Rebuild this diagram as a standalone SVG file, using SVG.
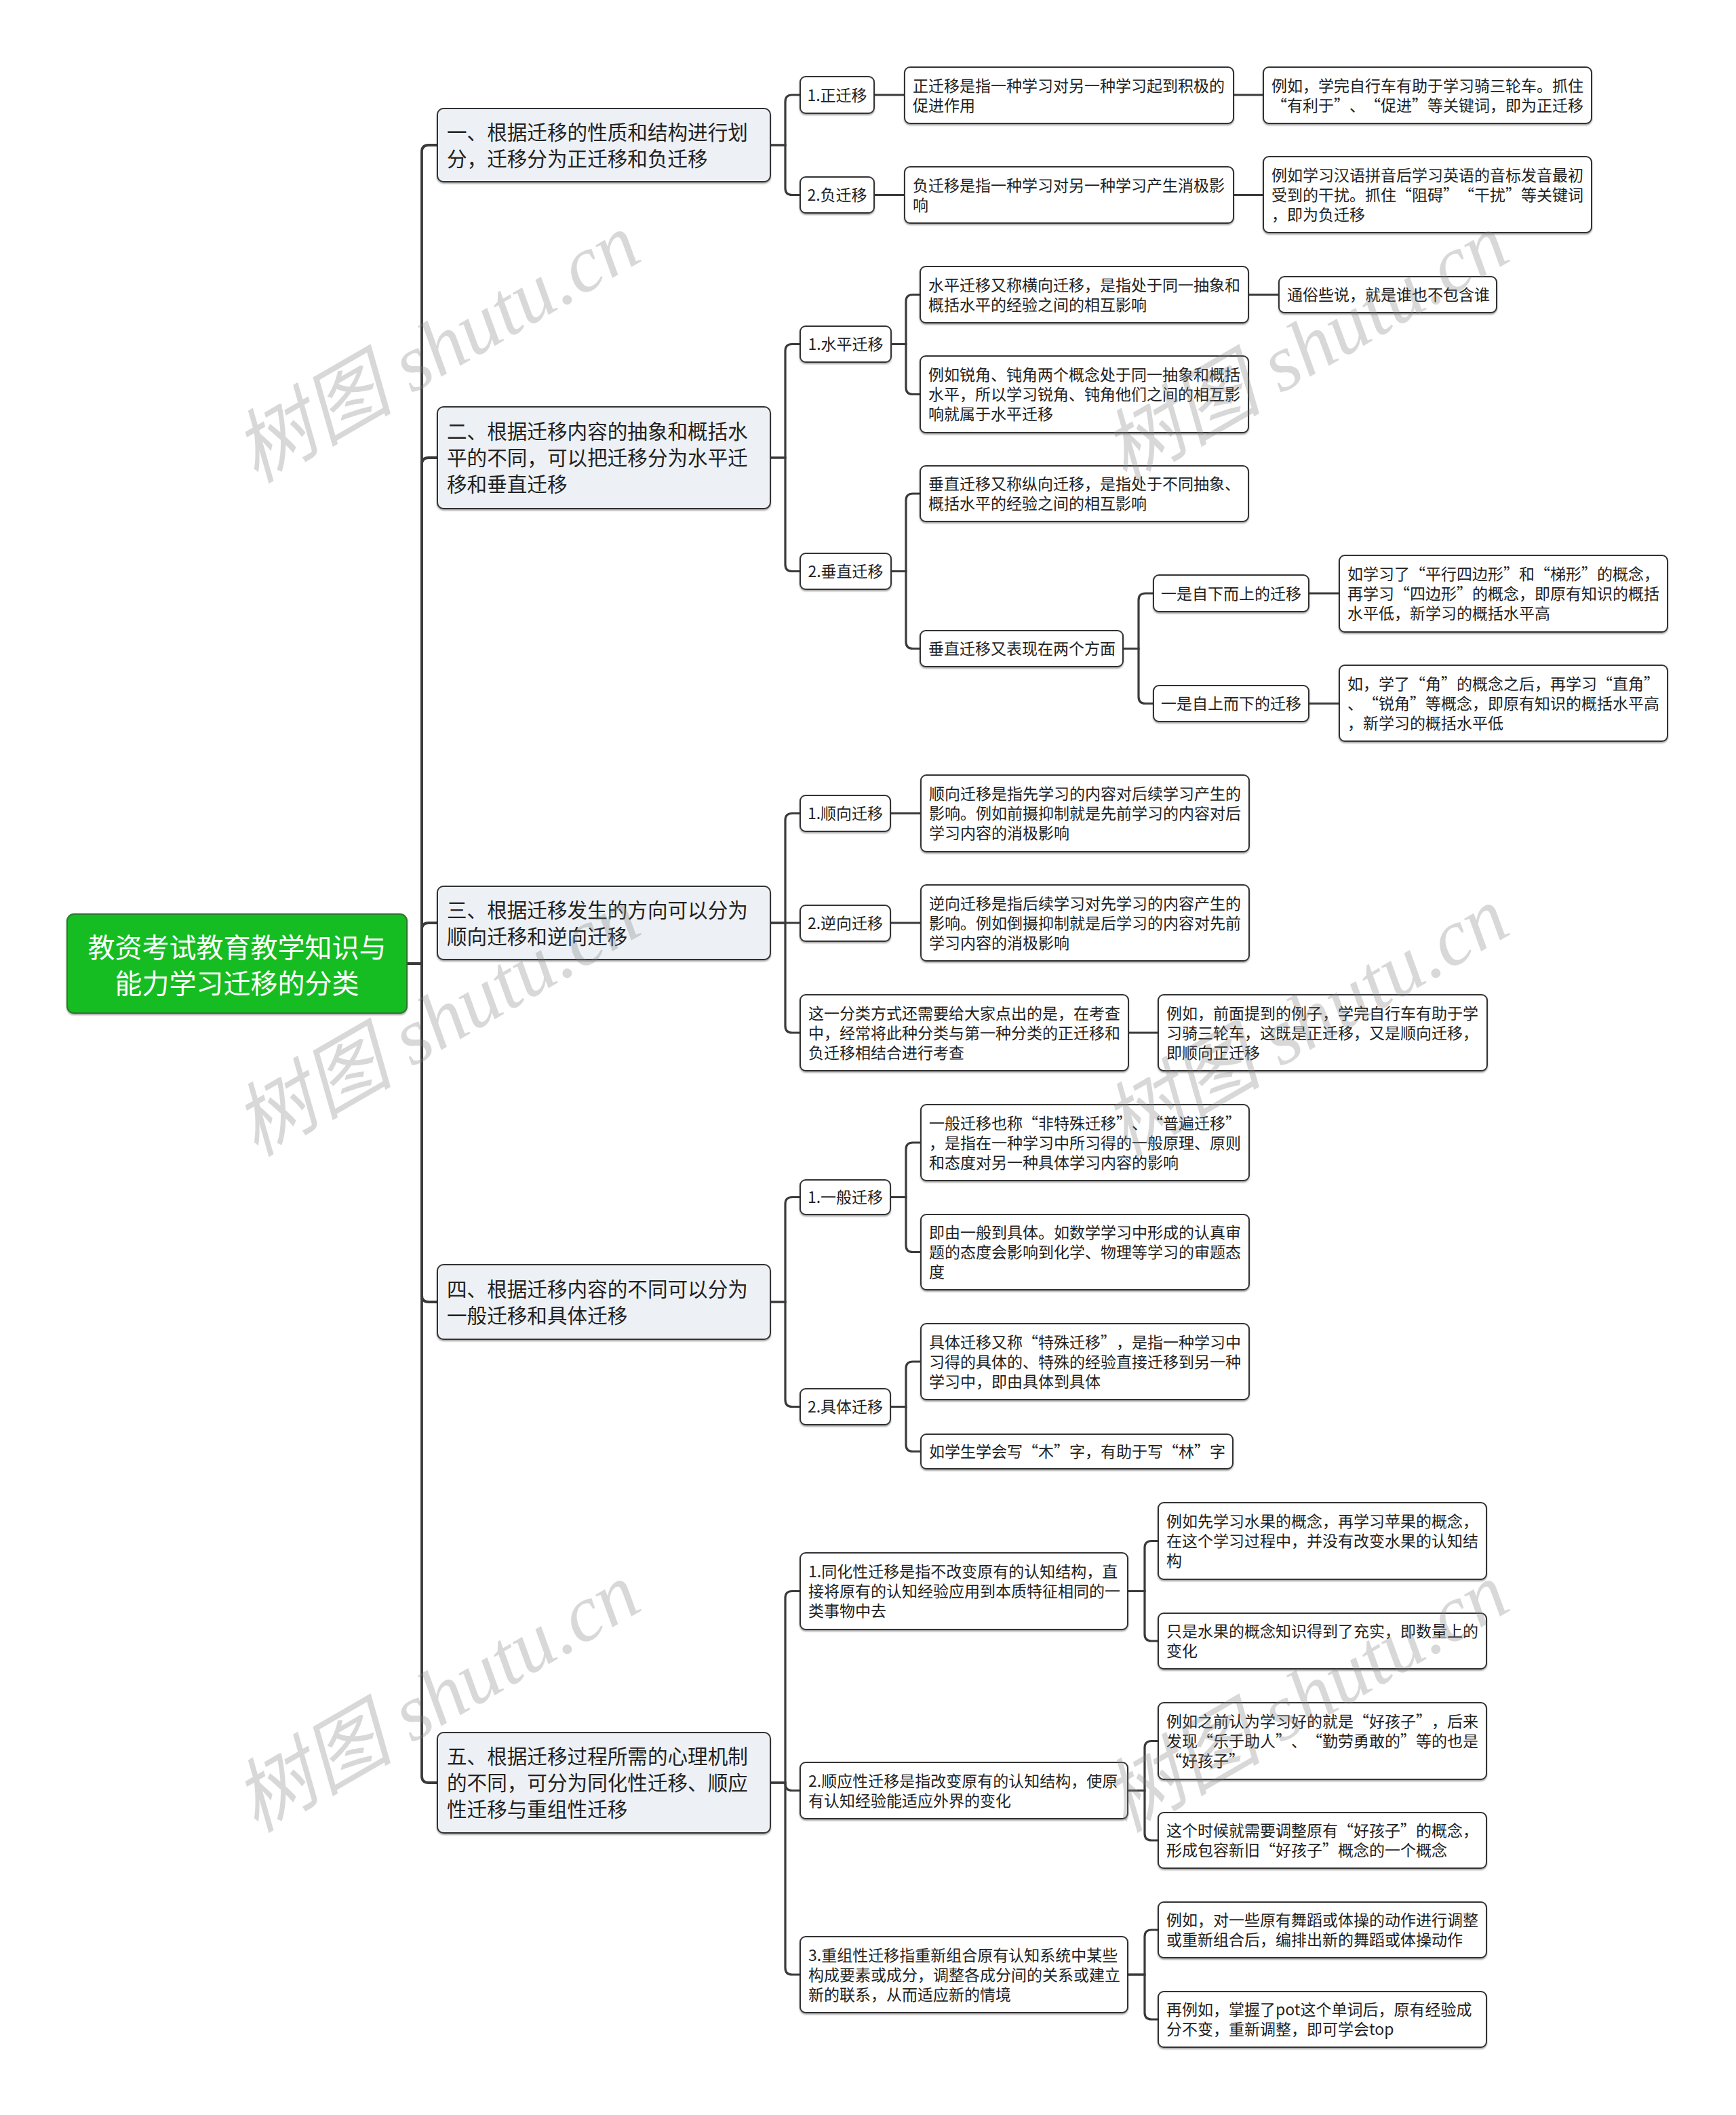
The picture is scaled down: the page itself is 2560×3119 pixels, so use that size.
<svg xmlns="http://www.w3.org/2000/svg" width="2560" height="3119" viewBox="0 0 2560 3119">
<defs>
<filter id="sh" x="-5%" y="-10%" width="110%" height="130%">
<feDropShadow dx="0" dy="2" stdDeviation="1.2" flood-color="#000" flood-opacity="0.35"/>
</filter>
<style>
text{text-spacing-trim:space-all;font-feature-settings:"halt" 0,"chws" 0}
.n{fill:#ffffff;stroke:#333333;stroke-width:2;filter:url(#sh)}
.l1{fill:#EDF1F5;stroke:#333333;stroke-width:2;filter:url(#sh)}
.root{fill:#15BD24;stroke:#2a7a2a;stroke-width:2;filter:url(#sh)}
.t{font-family:"Noto Sans CJK SC","Noto Sans",sans-serif;font-size:23px;fill:#222222}
.tc{font-family:"Noto Sans CJK SC","Noto Sans",sans-serif;font-size:23px;fill:#222222;text-anchor:middle}
.t1{font-family:"Noto Sans CJK SC","Noto Sans",sans-serif;font-size:29.6px;fill:#222222}
.tr{font-family:"Noto Sans CJK SC","Noto Sans",sans-serif;font-size:40px;fill:#ffffff;text-anchor:middle}
.c path{fill:none;stroke:#3a3a3a;stroke-width:3.2}
.c .k{stroke-width:3.8}
.wm{font-family:"Liberation Serif","Noto Sans CJK SC",serif;font-style:italic;font-size:118px;fill:#808080;opacity:0.3;text-anchor:middle}
</style>
</defs>
<rect width="2560" height="3119" fill="#ffffff"/>

<g class="c" id="connectors">
<path class="k" d="M600 1421 H622 V224 Q622 214 632 214 H645"/>
<path class="k" d="M600 1421 H622 V685 Q622 675 632 675 H645"/>
<path class="k" d="M600 1421 H622 V1371 Q622 1361 632 1361 H645"/>
<path class="k" d="M600 1421 H622 V1910 Q622 1920 632 1920 H645"/>
<path class="k" d="M600 1421 H622 V2619 Q622 2629 632 2629 H645"/>

<path d="M1136 214 H1158 V150 Q1158 140 1168 140 H1180"/>
<path d="M1136 214 H1158 V277.5 Q1158 287.5 1168 287.5 H1180"/>
<path d="M1289 140 H1334"/>
<path d="M1819 140 H1863"/>
<path d="M1289 287.5 H1334"/>
<path d="M1819 287.5 H1863"/>

<path d="M1136 675 H1158 V517.5 Q1158 507.5 1168 507.5 H1180"/>
<path d="M1136 675 H1158 V832.5 Q1158 842.5 1168 842.5 H1180"/>
<path d="M1314 507.5 H1336 V444.5 Q1336 434.5 1346 434.5 H1357"/>
<path d="M1314 507.5 H1336 V571.5 Q1336 581.5 1346 581.5 H1357"/>
<path d="M1841 434.5 H1886"/>
<path d="M1314 842.5 H1336 V738 Q1336 728 1346 728 H1357"/>
<path d="M1314 842.5 H1336 V946.5 Q1336 956.5 1346 956.5 H1357"/>
<path d="M1656 956.5 H1679 V885 Q1679 875 1689 875 H1701"/>
<path d="M1656 956.5 H1679 V1027.5 Q1679 1037.5 1689 1037.5 H1701"/>
<path d="M1930 875 H1975"/>
<path d="M1930 1037.5 H1975"/>

<path d="M1136 1361 H1158 V1209.5 Q1158 1199.5 1168 1199.5 H1180"/>
<path d="M1136 1361 H1180"/>
<path d="M1136 1361 H1158 V1513 Q1158 1523 1168 1523 H1180"/>
<path d="M1313 1199.5 H1358"/>
<path d="M1313 1361 H1358"/>
<path d="M1664 1523 H1708"/>

<path d="M1136 1920 H1158 V1775.5 Q1158 1765.5 1168 1765.5 H1180"/>
<path d="M1136 1920 H1158 V2064.5 Q1158 2074.5 1168 2074.5 H1180"/>
<path d="M1313 1765.5 H1336 V1695 Q1336 1685 1346 1685 H1358"/>
<path d="M1313 1765.5 H1336 V1836.5 Q1336 1846.5 1346 1846.5 H1358"/>
<path d="M1313 2074.5 H1336 V2018 Q1336 2008 1346 2008 H1358"/>
<path d="M1313 2074.5 H1336 V2130.5 Q1336 2140.5 1346 2140.5 H1358"/>

<path d="M1136 2629 H1158 V2356.5 Q1158 2346.5 1168 2346.5 H1180"/>
<path d="M1136 2629 H1158 V2630.5 Q1158 2640.5 1168 2640.5 H1180"/>
<path d="M1136 2629 H1158 V2902 Q1158 2912 1168 2912 H1180"/>
<path d="M1663 2346.5 H1688 V2282.5 Q1688 2272.5 1698 2272.5 H1708"/>
<path d="M1663 2346.5 H1688 V2410 Q1688 2420 1698 2420 H1708"/>
<path d="M1663 2640.5 H1688 V2577.5 Q1688 2567.5 1698 2567.5 H1708"/>
<path d="M1663 2640.5 H1688 V2704 Q1688 2714 1698 2714 H1708"/>
<path d="M1663 2912 H1688 V2856 Q1688 2846 1698 2846 H1708"/>
<path d="M1663 2912 H1688 V2968 Q1688 2978 1698 2978 H1708"/>
</g>

<g id="root">
<rect class="root" x="99" y="1348" width="501" height="146" rx="10"/>
<text class="tr"><tspan x="349.5" y="1412">教资考试教育教学知识与</tspan><tspan x="349.5" y="1465">能力学习迁移的分类</tspan></text>
</g>

<g id="b1">
<rect class="l1" x="645" y="160" width="491" height="108" rx="9"/>
<text class="t1"><tspan x="659" y="205.7">一、根据迁移的性质和结构进行划</tspan><tspan x="659" y="244.7">分，迁移分为正迁移和负迁移</tspan></text>
</g>
<g id="b1-1">
<rect class="n" x="1180" y="113" width="109" height="54" rx="8"/>
<text class="tc" x="1234.5" y="148.7">1.正迁移</text>
</g>
<g id="b1-1-1">
<rect class="n" x="1334" y="99" width="485" height="83" rx="8"/>
<text class="t"><tspan x="1346" y="134.7">正迁移是指一种学习对另一种学习起到积极的</tspan><tspan x="1346" y="163.7">促进作用</tspan></text>
</g>
<g id="b1-1-1-1">
<rect class="n" x="1863" y="99" width="484" height="83" rx="8"/>
<text class="t"><tspan x="1875" y="134.7">例如，学完自行车有助于学习骑三轮车。抓住</tspan><tspan x="1875" y="163.7">“有利于”、“促进”等关键词，即为正迁移</tspan></text>
</g>
<g id="b1-2">
<rect class="n" x="1180" y="261" width="109" height="53" rx="8"/>
<text class="tc" x="1234.5" y="296.2">2.负迁移</text>
</g>
<g id="b1-2-1">
<rect class="n" x="1334" y="246" width="485" height="83" rx="8"/>
<text class="t"><tspan x="1346" y="281.7">负迁移是指一种学习对另一种学习产生消极影</tspan><tspan x="1346" y="310.7">响</tspan></text>
</g>
<g id="b1-2-1-1">
<rect class="n" x="1863" y="231" width="484" height="112" rx="8"/>
<text class="t"><tspan x="1875" y="267.2">例如学习汉语拼音后学习英语的音标发音最初</tspan><tspan x="1875" y="296.2">受到的干扰。抓住“阻碍”“干扰”等关键词</tspan><tspan x="1875" y="325.2">，即为负迁移</tspan></text>
</g>

<g id="b2">
<rect class="l1" x="645" y="600" width="491" height="150" rx="9"/>
<text class="t1"><tspan x="659" y="647.2">二、根据迁移内容的抽象和概括水</tspan><tspan x="659" y="686.2">平的不同，可以把迁移分为水平迁</tspan><tspan x="659" y="725.2">移和垂直迁移</tspan></text>
</g>
<g id="b2-1">
<rect class="n" x="1180" y="481" width="134" height="53" rx="8"/>
<text class="tc" x="1247" y="516.2">1.水平迁移</text>
</g>
<g id="b2-1-1">
<rect class="n" x="1357" y="393" width="484" height="83" rx="8"/>
<text class="t"><tspan x="1369" y="428.7">水平迁移又称横向迁移，是指处于同一抽象和</tspan><tspan x="1369" y="457.7">概括水平的经验之间的相互影响</tspan></text>
</g>
<g id="b2-1-1-1">
<rect class="n" x="1886" y="408" width="321" height="53" rx="8"/>
<text class="t" x="1898" y="443.2">通俗些说，就是谁也不包含谁</text>
</g>
<g id="b2-1-2">
<rect class="n" x="1357" y="525" width="484" height="113" rx="8"/>
<text class="t"><tspan x="1369" y="561.2">例如锐角、钝角两个概念处于同一抽象和概括</tspan><tspan x="1369" y="590.2">水平，所以学习锐角、钝角他们之间的相互影</tspan><tspan x="1369" y="619.2">响就属于水平迁移</tspan></text>
</g>
<g id="b2-2">
<rect class="n" x="1180" y="816" width="134" height="53" rx="8"/>
<text class="tc" x="1247" y="851.2">2.垂直迁移</text>
</g>
<g id="b2-2-1">
<rect class="n" x="1357" y="687" width="484" height="82" rx="8"/>
<text class="t"><tspan x="1369" y="722.2">垂直迁移又称纵向迁移，是指处于不同抽象、</tspan><tspan x="1369" y="751.2">概括水平的经验之间的相互影响</tspan></text>
</g>
<g id="b2-2-2">
<rect class="n" x="1357" y="930" width="299" height="53" rx="8"/>
<text class="t" x="1369" y="965.2">垂直迁移又表现在两个方面</text>
</g>
<g id="b2-2-2-1">
<rect class="n" x="1701" y="848" width="229" height="54" rx="8"/>
<text class="tc" x="1815.5" y="883.7">一是自下而上的迁移</text>
</g>
<g id="b2-2-2-1-1">
<rect class="n" x="1975" y="819" width="484" height="113" rx="8"/>
<text class="t"><tspan x="1987" y="855.2">如学习了“平行四边形”和“梯形”的概念，</tspan><tspan x="1987" y="884.2">再学习“四边形”的概念，即原有知识的概括</tspan><tspan x="1987" y="913.2">水平低，新学习的概括水平高</tspan></text>
</g>
<g id="b2-2-2-2">
<rect class="n" x="1701" y="1011" width="229" height="53" rx="8"/>
<text class="tc" x="1815.5" y="1046.2">一是自上而下的迁移</text>
</g>
<g id="b2-2-2-2-1">
<rect class="n" x="1975" y="981" width="484" height="112" rx="8"/>
<text class="t"><tspan x="1987" y="1016.7">如，学了“角”的概念之后，再学习“直角”</tspan><tspan x="1987" y="1045.7">、“锐角”等概念，即原有知识的概括水平高</tspan><tspan x="1987" y="1074.7">，新学习的概括水平低</tspan></text>
</g>

<g id="b3">
<rect class="l1" x="645" y="1307" width="491" height="108" rx="9"/>
<text class="t1"><tspan x="659" y="1352.7">三、根据迁移发生的方向可以分为</tspan><tspan x="659" y="1391.7">顺向迁移和逆向迁移</tspan></text>
</g>
<g id="b3-1">
<rect class="n" x="1180" y="1173" width="133" height="53" rx="8"/>
<text class="tc" x="1246.5" y="1208.2">1.顺向迁移</text>
</g>
<g id="b3-1-1">
<rect class="n" x="1358" y="1143" width="484" height="113" rx="8"/>
<text class="t"><tspan x="1370" y="1179.2">顺向迁移是指先学习的内容对后续学习产生的</tspan><tspan x="1370" y="1208.2">影响。例如前摄抑制就是先前学习的内容对后</tspan><tspan x="1370" y="1237.2">学习内容的消极影响</tspan></text>
</g>
<g id="b3-2">
<rect class="n" x="1180" y="1335" width="133" height="53" rx="8"/>
<text class="tc" x="1246.5" y="1370.2">2.逆向迁移</text>
</g>
<g id="b3-2-1">
<rect class="n" x="1358" y="1305" width="484" height="112" rx="8"/>
<text class="t"><tspan x="1370" y="1340.7">逆向迁移是指后续学习对先学习的内容产生的</tspan><tspan x="1370" y="1369.7">影响。例如倒摄抑制就是后学习的内容对先前</tspan><tspan x="1370" y="1398.7">学习内容的消极影响</tspan></text>
</g>
<g id="b3-3">
<rect class="n" x="1180" y="1467" width="484" height="112" rx="8"/>
<text class="t"><tspan x="1192" y="1502.7">这一分类方式还需要给大家点出的是，在考查</tspan><tspan x="1192" y="1531.7">中，经常将此种分类与第一种分类的正迁移和</tspan><tspan x="1192" y="1560.7">负迁移相结合进行考查</tspan></text>
</g>
<g id="b3-3-1">
<rect class="n" x="1708" y="1467" width="485" height="112" rx="8"/>
<text class="t"><tspan x="1720" y="1502.7">例如，前面提到的例子，学完自行车有助于学</tspan><tspan x="1720" y="1531.7">习骑三轮车，这既是正迁移，又是顺向迁移，</tspan><tspan x="1720" y="1560.7">即顺向正迁移</tspan></text>
</g>

<g id="b4">
<rect class="l1" x="645" y="1865" width="491" height="110" rx="9"/>
<text class="t1"><tspan x="659" y="1911.7">四、根据迁移内容的不同可以分为</tspan><tspan x="659" y="1950.7">一般迁移和具体迁移</tspan></text>
</g>
<g id="b4-1">
<rect class="n" x="1180" y="1740" width="133" height="51" rx="8"/>
<text class="tc" x="1246.5" y="1774.2">1.一般迁移</text>
</g>
<g id="b4-1-1">
<rect class="n" x="1358" y="1629" width="484" height="112" rx="8"/>
<text class="t"><tspan x="1370" y="1664.7">一般迁移也称“非特殊迁移”、“普遍迁移”</tspan><tspan x="1370" y="1693.7">，是指在一种学习中所习得的一般原理、原则</tspan><tspan x="1370" y="1722.7">和态度对另一种具体学习内容的影响</tspan></text>
</g>
<g id="b4-1-2">
<rect class="n" x="1358" y="1791" width="484" height="111" rx="8"/>
<text class="t"><tspan x="1370" y="1826.2">即由一般到具体。如数学学习中形成的认真审</tspan><tspan x="1370" y="1855.2">题的态度会影响到化学、物理等学习的审题态</tspan><tspan x="1370" y="1884.2">度</tspan></text>
</g>
<g id="b4-2">
<rect class="n" x="1180" y="2048" width="133" height="53" rx="8"/>
<text class="tc" x="1246.5" y="2083.2">2.具体迁移</text>
</g>
<g id="b4-2-1">
<rect class="n" x="1358" y="1952" width="484" height="112" rx="8"/>
<text class="t"><tspan x="1370" y="1987.7">具体迁移又称“特殊迁移”，是指一种学习中</tspan><tspan x="1370" y="2016.7">习得的具体的、特殊的经验直接迁移到另一种</tspan><tspan x="1370" y="2045.7">学习中，即由具体到具体</tspan></text>
</g>
<g id="b4-2-2">
<rect class="n" x="1358" y="2115" width="460" height="51" rx="8"/>
<text class="t" x="1370" y="2149.2">如学生学会写“木”字，有助于写“林”字</text>
</g>

<g id="b5">
<rect class="l1" x="645" y="2555" width="491" height="148" rx="9"/>
<text class="t1"><tspan x="659" y="2601.2">五、根据迁移过程所需的心理机制</tspan><tspan x="659" y="2640.2">的不同，可分为同化性迁移、顺应</tspan><tspan x="659" y="2679.2">性迁移与重组性迁移</tspan></text>
</g>
<g id="b5-1">
<rect class="n" x="1180" y="2290" width="483" height="113" rx="8"/>
<text class="t"><tspan x="1192" y="2326.2">1.同化性迁移是指不改变原有的认知结构，直</tspan><tspan x="1192" y="2355.2">接将原有的认知经验应用到本质特征相同的一</tspan><tspan x="1192" y="2384.2">类事物中去</tspan></text>
</g>
<g id="b5-1-1">
<rect class="n" x="1708" y="2216" width="484" height="113" rx="8"/>
<text class="t"><tspan x="1720" y="2252.2">例如先学习水果的概念，再学习苹果的概念，</tspan><tspan x="1720" y="2281.2">在这个学习过程中，并没有改变水果的认知结</tspan><tspan x="1720" y="2310.2">构</tspan></text>
</g>
<g id="b5-1-2">
<rect class="n" x="1708" y="2379" width="484" height="82" rx="8"/>
<text class="t"><tspan x="1720" y="2414.2">只是水果的概念知识得到了充实，即数量上的</tspan><tspan x="1720" y="2443.2">变化</tspan></text>
</g>
<g id="b5-2">
<rect class="n" x="1180" y="2599" width="483" height="83" rx="8"/>
<text class="t"><tspan x="1192" y="2634.7">2.顺应性迁移是指改变原有的认知结构，使原</tspan><tspan x="1192" y="2663.7">有认知经验能适应外界的变化</tspan></text>
</g>
<g id="b5-2-1">
<rect class="n" x="1708" y="2511" width="484" height="113" rx="8"/>
<text class="t"><tspan x="1720" y="2547.2">例如之前认为学习好的就是“好孩子”，后来</tspan><tspan x="1720" y="2576.2">发现“乐于助人”、“勤劳勇敢的”等的也是</tspan><tspan x="1720" y="2605.2">“好孩子”</tspan></text>
</g>
<g id="b5-2-2">
<rect class="n" x="1708" y="2673" width="484" height="82" rx="8"/>
<text class="t"><tspan x="1720" y="2708.2">这个时候就需要调整原有“好孩子”的概念，</tspan><tspan x="1720" y="2737.2">形成包容新旧“好孩子”概念的一个概念</tspan></text>
</g>
<g id="b5-3">
<rect class="n" x="1180" y="2856" width="483" height="112" rx="8"/>
<text class="t"><tspan x="1192" y="2891.7">3.重组性迁移指重新组合原有认知系统中某些</tspan><tspan x="1192" y="2920.7">构成要素或成分，调整各成分间的关系或建立</tspan><tspan x="1192" y="2949.7">新的联系，从而适应新的情境</tspan></text>
</g>
<g id="b5-3-1">
<rect class="n" x="1708" y="2805" width="484" height="82" rx="8"/>
<text class="t"><tspan x="1720" y="2840.2">例如，对一些原有舞蹈或体操的动作进行调整</tspan><tspan x="1720" y="2869.2">或重新组合后，编排出新的舞蹈或体操动作</tspan></text>
</g>
<g id="b5-3-2">
<rect class="n" x="1708" y="2937" width="484" height="82" rx="8"/>
<text class="t"><tspan x="1720" y="2972.2">再例如，掌握了pot这个单词后，原有经验成</tspan><tspan x="1720" y="3001.2">分不变，重新调整，即可学会top</tspan></text>
</g>

<g id="watermarks">
<text class="wm" transform="translate(645 515) rotate(-30)" y="38">树图 shutu.cn</text>
<text class="wm" transform="translate(645 1508) rotate(-30)" y="38">树图 shutu.cn</text>
<text class="wm" transform="translate(645 2505) rotate(-30)" y="38">树图 shutu.cn</text>
<text class="wm" transform="translate(1926 515) rotate(-30)" y="38">树图 shutu.cn</text>
<text class="wm" transform="translate(1926 1508) rotate(-30)" y="38">树图 shutu.cn</text>
<text class="wm" transform="translate(1926 2505) rotate(-30)" y="38">树图 shutu.cn</text>
</g>
</svg>
